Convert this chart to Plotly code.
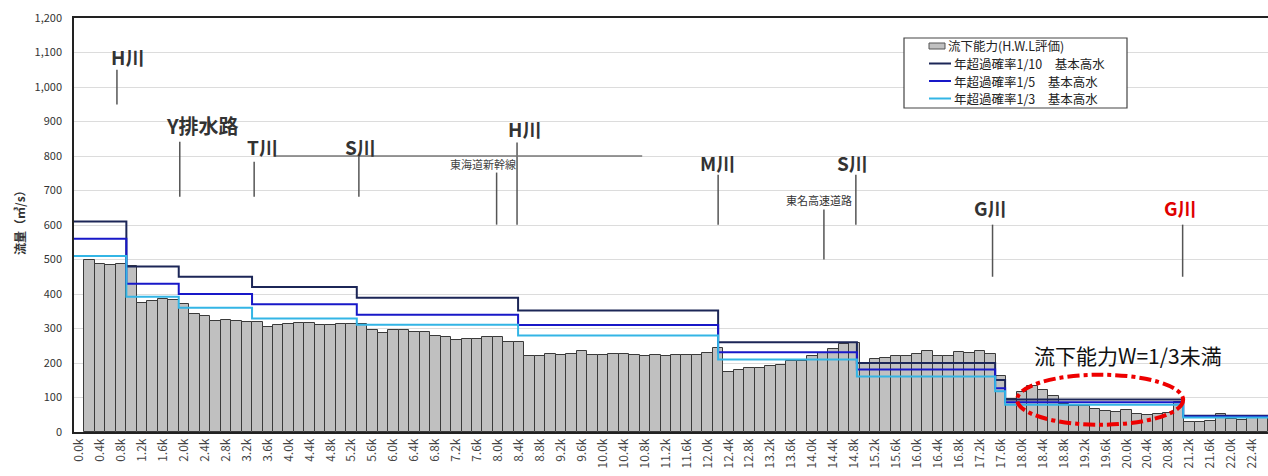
import plotly.graph_objects as go

# ---------------- data ----------------
# bar centres (km) and flow capacity (m3/s); slot 0.0k is empty
bar_km = [round(0.2 * i, 1) for i in range(1, 114)]
capacity = [
    499, 487, 483, 488, 480, 373, 379, 386, 383, 372,
    343, 337, 321, 324, 321, 320, 320, 305, 311, 314,
    316, 315, 309, 311, 313, 313, 312, 297, 288, 295,
    296, 290, 289, 279, 275, 268, 270, 270, 274, 274,
    260, 260, 219, 219, 226, 224, 226, 234, 224, 224,
    226, 226, 222, 219, 223, 219, 223, 224, 222, 228,
    243, 173, 179, 185, 185, 190, 195, 205, 206, 219,
    229, 241, 256, 257, 201, 211, 215, 221, 219, 227,
    236, 221, 221, 231, 229, 234, 226, 163, 95, 115,
    132, 121, 103, 80, 76, 74, 67, 61, 59, 63,
    53, 48, 52, 54, 88, 28, 28, 31, 52, 38,
    34, 47, 40,
]

# step lines (basic high water) : breakpoints in km and levels
step_km = [-0.1, 0.9, 1.9, 3.3, 5.3, 8.38, 12.2, 14.85, 17.49, 17.68, 21.08, 22.7]
q_1_10 = [610, 480, 450, 420, 389, 352, 260, 200, 151, 94, 47]
q_1_5 = [560, 430, 400, 370, 340, 310, 231, 181, 127, 86, 45]
q_1_3 = [510, 392, 360, 329, 311, 280, 210, 161, 118, 79, 42]

series_names = ["流下能力(H.W.L評価)", "年超過確率1/10　基本高水", "年超過確率1/5　基本高水", "年超過確率1/3　基本高水"]

tick_km = [round(0.4 * i, 1) for i in range(0, 57)]
tick_text = [f"{v:.1f}k" for v in tick_km]

# site markers
site_names = ["H川", "Y排水路", "T川", "S川", "東海道新幹線", "H川", "M川", "S川", "東名高速道路", "G川", "G川"]
site_line_km = [0.72, 1.92, 3.34, 5.34, 7.97, 8.36, 12.2, 14.83, 14.22, 17.44, 21.07]
site_line_y0 = [949, 682, 682, 682, 601, 601, 601, 601, 500, 450, 450]
site_line_y1 = [1050, 841, 783, 804, 752, 839, 746, 746, 645, 601, 601]
site_text_km = [0.92, 2.36, 3.49, 5.38, 7.71, 8.51, 12.18, 14.76, 14.12, 17.4, 21.03]
site_text_y = [1088, 888, 827, 827, 778, 879, 782, 782, 673, 650, 650]
site_size = [19, 20, 19, 19, 11, 19, 19, 19, 11, 19, 19]
site_color = ["#333", "#333", "#333", "#333", "#444", "#333", "#333", "#333", "#333", "#333", "#e00000"]

FONT = "Noto Sans CJK JP"
COLORS = ["#c0c0c0", "#1c2657", "#1818c8", "#33b5e5"]

# plot area in pixels (for the hand-built legend box)
PL, PR, PT, PB = 74, 1268, 18, 432


def xp(px):
    return (px - PL) / (PR - PL)


def yp(py):
    return (PB - py) / (PB - PT)


fig = go.Figure()
fig.add_trace(go.Bar(
    x=bar_km, y=capacity, width=0.2, name=series_names[0], showlegend=False,
    marker=dict(color=COLORS[0], line=dict(color="#3a3a3a", width=1)),
))
for name, vals, col in zip(series_names[1:], [q_1_10, q_1_5, q_1_3], COLORS[1:]):
    fig.add_trace(go.Scatter(
        x=step_km, y=vals + [vals[-1]], mode="lines", name=name, showlegend=False,
        line=dict(color=col, width=2, shape="hv"),
    ))

shapes = []
annotations = []
for n, lk, y0, y1, tk, ty, fs, c in zip(site_names, site_line_km, site_line_y0, site_line_y1,
                                         site_text_km, site_text_y, site_size, site_color):
    shapes.append(dict(type="line", xref="x", yref="y", x0=lk, x1=lk, y0=y0, y1=y1,
                       line=dict(color="#555", width=1.5)))
    annotations.append(dict(x=tk, y=ty, xref="x", yref="y", text=f"<b>{n}</b>" if fs > 12 else n,
                            showarrow=False, font=dict(family=FONT, size=fs, color=c)))

# bracket line near 800
shapes.append(dict(type="line", xref="x", yref="y", x0=3.74, x1=10.75, y0=800, y1=800,
                   line=dict(color="#777", width=1.5)))
# red dash-dot ellipse
shapes.append(dict(type="circle", xref="x", yref="y", x0=17.91, x1=21.08, y0=21, y1=166,
                   line=dict(color="#ee0000", width=4, dash="dashdot")))
annotations.append(dict(x=20.03, y=224, xref="x", yref="y", text="流下能力W=1/3未満",
                        showarrow=False, font=dict(family=FONT, size=21, color="#111")))
# y axis title
annotations.append(dict(x=0, y=yp(220), xref="paper", yref="paper", xshift=-54, textangle=-90,
                        xanchor="center", yanchor="middle",
                        text="<b>流量（㎥/s）</b>", showarrow=False,
                        font=dict(family=FONT, size=12, color="#333")))

# hand-built legend
shapes.append(dict(type="rect", xref="paper", yref="paper", x0=xp(904), x1=xp(1127), y0=yp(108), y1=yp(38),
                   fillcolor="white", line=dict(color="#444", width=1.2), layer="above"))
rows = [46, 63.5, 81, 98.5]
for i, (name, col) in enumerate(zip(series_names, COLORS)):
    r = rows[i]
    if i == 0:
        shapes.append(dict(type="rect", xref="paper", yref="paper", x0=xp(929), x1=xp(945),
                           y0=yp(r + 3), y1=yp(r - 3), fillcolor=col,
                           line=dict(color="#555", width=1), layer="above"))
        tx = 946
    else:
        shapes.append(dict(type="line", xref="paper", yref="paper", x0=xp(929), x1=xp(951),
                           y0=yp(r), y1=yp(r), line=dict(color=col, width=2), layer="above"))
        tx = 952
    annotations.append(dict(x=xp(tx), y=yp(r), xref="paper", yref="paper", xanchor="left",
                            yanchor="middle", text=name, showarrow=False,
                            font=dict(family=FONT, size=12.5, color="#222")))

fig.update_layout(
    width=1268, height=476,
    margin=dict(l=PL, r=1268 - PR, t=PT, b=476 - PB, autoexpand=False),
    plot_bgcolor="white", paper_bgcolor="white",
    bargap=0, showlegend=False,
    font=dict(family=FONT, size=11, color="#333"),
    shapes=shapes, annotations=annotations,
)
fig.update_xaxes(range=[-0.1, 22.7], tickmode="array", tickvals=tick_km, ticktext=tick_text,
                 tickangle=-90, showgrid=False, showline=True, linecolor="#222", linewidth=1.5,
                 mirror=True, ticks="", automargin=False,
                 tickfont=dict(family=FONT, size=12, color="#444"))
fig.update_yaxes(range=[0, 1200], dtick=100, tickformat=",", showgrid=True, gridcolor="#dcdcdc",
                 showline=True, linecolor="#222", linewidth=1.5, mirror=True, zeroline=False,
                 automargin=False, ticklabelstandoff=8,
                 tickfont=dict(family=FONT, size=11, color="#333"))

fig.write_html("out.html", config={"displayModeBar": False},
               post_script="document.body.style.margin='0';document.body.style.overflow='hidden';")
